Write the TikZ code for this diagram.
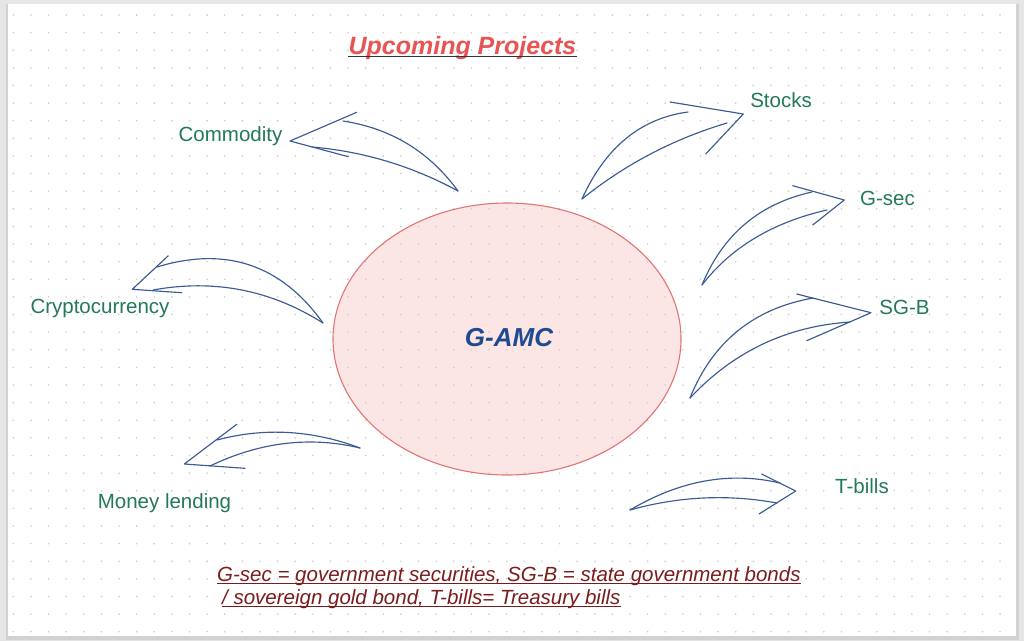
\documentclass[tikz,border=0pt]{standalone}
\usepackage{fontspec}
\setmainfont{Liberation Sans}
\usetikzlibrary{shapes.geometric,calc}
\definecolor{pagegray}{HTML}{E6E6E6}
\definecolor{shadowgray}{HTML}{D2D2D2}
\definecolor{dotgray}{HTML}{CCCCCC}
\definecolor{arrowblue}{HTML}{3B5B95}
\definecolor{labelgreen}{HTML}{237A57}
\definecolor{titlered}{HTML}{E85454}
\definecolor{titleline}{HTML}{333333}
\definecolor{gamcblue}{HTML}{1C4B8F}
\definecolor{footred}{HTML}{7B1C1C}
\definecolor{ellfill}{HTML}{FCE5E5}
\definecolor{elldraw}{HTML}{E07575}
\tikzset{
  arr/.style={draw=arrowblue, line width=1.15pt, line cap=round, line join=round},
  lbl/.style={text=labelgreen, font=\fontsize{20.5}{24}\selectfont, anchor=base, inner sep=0pt},
  foot/.style={text=footred, font=\fontsize{20.5}{24}\selectfont\itshape, anchor=base west, inner sep=0pt},
}
% quadratic curve from #1 to #3 with control #2
\newcommand\qcurve[3]{\draw[arr] (#1) .. controls ($(#1)!0.6667!(#2)$) and ($(#3)!0.6667!(#2)$) .. (#3);}
\begin{document}
\begin{tikzpicture}[x=1pt,y=-1pt]
\useasboundingbox (0,0) rectangle (1024,641);
% page
\fill[pagegray] (0,0) rectangle (1024,641);
\fill[shadowgray] (6,4) rectangle (1019,640);
\fill[white] (8,4) rectangle (1016,636);
% ellipse fill
\fill[ellfill] (507,339) ellipse [x radius=174, y radius=136];
% dot grid
\foreach \i in {0,...,56}{
  \foreach \j in {0,...,35}{
    \fill[dotgray] (13.3+\i*17.62, 15+\j*17.62) circle (0.9);
  }
}
% central ellipse
\node[draw=elldraw, line width=1.1pt, ellipse, minimum width=348pt, minimum height=272pt, inner sep=0pt] (ell) at (507,339) {};
\node[text=gamcblue, font=\fontsize{26}{30}\selectfont\bfseries\itshape, anchor=base, inner sep=0pt] (gamc) at (509,346.7) {G-AMC};

% title
\node[text=titlered, font=\fontsize{25}{30}\selectfont\bfseries\itshape, anchor=base, inner sep=0pt] (title) at (462.5,54) {Upcoming Projects};
\draw[titleline, line width=1.4pt] ([yshift=-2.5pt]title.base west) -- ([yshift=-2.5pt]title.base east);

% labels
\node[lbl] (stocks) at (781,107.3) {Stocks};
\node[lbl] (gsec) at (887.5,205.5) {G-sec};
\node[lbl] (sgb) at (904.5,314.5) {SG-B};
\node[lbl] (tbills) at (862,493.5) {T-bills};
\node[lbl] (commodity) at (230.5,141.5) {Commodity};
\node[lbl] (crypto) at (100,313.5) {Cryptocurrency};
\node[lbl] (money) at (164.5,508.5) {Money lending};

% Commodity arrow
\coordinate (cB) at (458,191);
\coordinate (cU) at (343,121);
\coordinate (cQU) at (415,132);
\coordinate (cL) at (312,147);
\coordinate (cQL) at (389.6,153.7);
\coordinate (cT) at (290,141);
\coordinate (cH1) at (356.7,112.3);
\coordinate (cH2) at (348.3,156.7);
\qcurve{cB}{cQU}{cU}
\qcurve{cB}{cQL}{cL}
\draw[arr] (cH1) -- (cT) -- (cH2);

% Stocks arrow
\coordinate (sB) at (582,199);
\coordinate (sU) at (688,112);
\coordinate (sQU) at (617,121.5);
\coordinate (sL) at (727,123);
\coordinate (sQL) at (646.5,147);
\coordinate (sT) at (743.3,114);
\coordinate (sH1) at (670,102);
\coordinate (sH2) at (705.7,154);
\qcurve{sB}{sQU}{sU}
\qcurve{sB}{sQL}{sL}
\draw[arr] (sH1) -- (sT) -- (sH2);

% G-sec arrow
\coordinate (gB) at (702,285);
\coordinate (gU) at (812,192);
\coordinate (gQU) at (733,209.5);
\coordinate (gL) at (827,210);
\coordinate (gQL) at (745.5,228.5);
\coordinate (gT) at (844.3,200);
\coordinate (gH1) at (792.7,185.7);
\coordinate (gH2) at (812.7,225);
\qcurve{gB}{gQU}{gU}
\qcurve{gB}{gQL}{gL}
\draw[arr] (gH1) -- (gT) -- (gH2);

% SG-B arrow
\coordinate (bB) at (690,398);
\coordinate (bU) at (813,298);
\coordinate (bQU) at (723.8,313.9);
\coordinate (bL) at (850,322);
\coordinate (bQL) at (755,328.4);
\coordinate (bT) at (871,312.7);
\coordinate (bH1) at (796.7,294);
\coordinate (bH2) at (806.7,340.7);
\qcurve{bB}{bQU}{bU}
\qcurve{bB}{bQL}{bL}
\draw[arr] (bH1) -- (bT) -- (bH2);

% Cryptocurrency arrow
\coordinate (yB) at (323,323);
\coordinate (yU) at (157,267);
\coordinate (yQU) at (260.3,235.4);
\coordinate (yL) at (153,290);
\coordinate (yQL) at (244.5,273.3);
\coordinate (yT) at (132.3,289.3);
\coordinate (yH1) at (168.3,255.7);
\coordinate (yH2) at (181.7,292.7);
\qcurve{yB}{yQU}{yU}
\qcurve{yB}{yQL}{yL}
\draw[arr] (yH1) -- (yT) -- (yH2);

% Money lending arrow
\coordinate (mB) at (360,448);
\coordinate (mU) at (217,440);
\coordinate (mQU) at (288,421);
\coordinate (mL) at (210,466);
\coordinate (mQL) at (285,430);
\coordinate (mT) at (184.3,464);
\coordinate (mH1) at (236.7,424.3);
\coordinate (mH2) at (245,468.3);
\qcurve{mB}{mQU}{mU}
\qcurve{mB}{mQL}{mL}
\draw[arr] (mH1) -- (mT) -- (mH2);

% T-bills arrow
\coordinate (tB) at (630,510);
\coordinate (tU) at (780,483);
\coordinate (tQU) at (705,465.5);
\coordinate (tL) at (777,503);
\coordinate (tQL) at (703,489.5);
\coordinate (tT) at (795.7,491);
\coordinate (tH1) at (761.7,474);
\coordinate (tH2) at (759,514);
\qcurve{tB}{tQU}{tU}
\qcurve{tB}{tQL}{tL}
\draw[arr] (tH1) -- (tT) -- (tH2);

% footnote
\node[foot] (f1) at (217,581) {G-sec = government securities, SG-B = state government bonds};
\node[foot] (f2) at (222,604) {/ sovereign gold bond, T-bills= Treasury bills};
\draw[footred, line width=1pt] ([yshift=-2.5pt]f1.base west) -- ([yshift=-2.5pt]f1.base east);
\draw[footred, line width=1pt] ([yshift=-2.5pt]f2.base west) -- ([yshift=-2.5pt]f2.base east);
\end{tikzpicture}
\end{document}
